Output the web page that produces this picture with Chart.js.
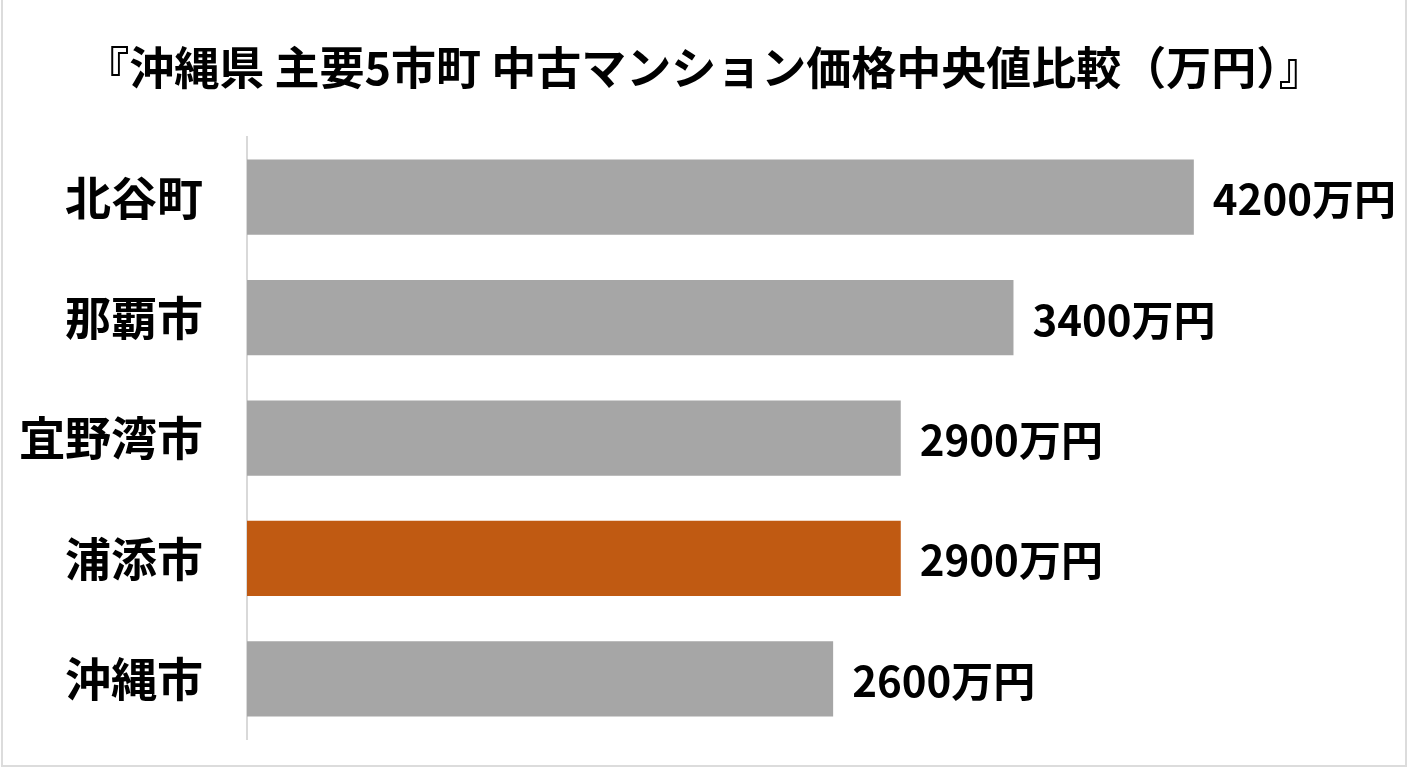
<!DOCTYPE html>
<html>
<head>
<meta charset="utf-8">
<script src="https://cdn.jsdelivr.net/npm/chart.js@4"></script>
<style>
html,body{margin:0;padding:0;background:#fff;}
#wrap{width:1408px;height:768px;position:relative;}
canvas{display:block;}
</style>
</head>
<body>
<div id="wrap"><canvas id="c" width="1408" height="768"></canvas></div>
<script>
const titleText = '『沖縄県 主要5市町 中古マンション価格中央値比較（万円）』';
const categories = ['北谷町', '那覇市', '宜野湾市', '浦添市', '沖縄市'];
const values = [4200, 3400, 2900, 2900, 2600];
const valueLabels = ['4200万円', '3400万円', '2900万円', '2900万円', '2600万円'];
const barColors = ['#a6a6a6', '#a6a6a6', '#a6a6a6', '#c05a12', '#a6a6a6'];

const FONT = '"Noto Sans CJK JP", "Noto Sans", sans-serif';

const framePlugin = {
  id: 'frame',
  beforeDraw(chart) {
    const ctx = chart.ctx;
    ctx.save();
    ctx.fillStyle = '#ffffff';
    ctx.fillRect(0, 0, chart.width, chart.height);
    ctx.strokeStyle = '#dcdcdc';
    ctx.lineWidth = 2;
    ctx.beginPath();
    ctx.moveTo(2, 0); ctx.lineTo(2, 766);
    ctx.lineTo(1406, 766); ctx.lineTo(1406, 0);
    ctx.stroke();
    ctx.restore();
  }
};

const valueLabelPlugin = {
  id: 'valueLabels',
  afterDatasetsDraw(chart) {
    const ctx = chart.ctx;
    const meta = chart.getDatasetMeta(0);
    ctx.save();
    ctx.font = 'bold 42px ' + FONT;
    ctx.fillStyle = '#000000';
    ctx.textAlign = 'left';
    ctx.textBaseline = 'middle';
    meta.data.forEach((bar, i) => {
      ctx.fillText(valueLabels[i], bar.x + 19, bar.y + 2);
    });
    ctx.restore();
  }
};

new Chart(document.getElementById('c'), {
  type: 'bar',
  data: {
    labels: categories,
    datasets: [{
      data: values,
      backgroundColor: barColors,
      borderWidth: 0,
      categoryPercentage: 1.0,
      barPercentage: 0.625
    }]
  },
  options: {
    indexAxis: 'y',
    responsive: false,
    animation: false,
    devicePixelRatio: 1,
    layout: { padding: { left: 0, right: 0, top: 0, bottom: 29 } },
    plugins: {
      legend: { display: false },
      tooltip: { enabled: false },
      title: {
        display: true,
        text: titleText,
        color: '#000000',
        font: { family: FONT, size: 45, weight: 'bold' },
        padding: { top: 41, bottom: 42 }
      }
    },
    scales: {
      x: { display: false, min: 0, max: 5150 },
      y: {
        grid: { display: false, drawTicks: false },
        border: { display: true, color: '#d9d9d9', width: 2 },
        ticks: {
          color: '#000000',
          font: { family: FONT, size: 46, weight: 'bold' },
          padding: 44
        },
        afterFit(scale) {
          scale.width = 247;
          scale.paddingTop = 0;
          scale.paddingBottom = 0;
        }
      }
    }
  },
  plugins: [framePlugin, valueLabelPlugin]
});
</script>
</body>
</html>
